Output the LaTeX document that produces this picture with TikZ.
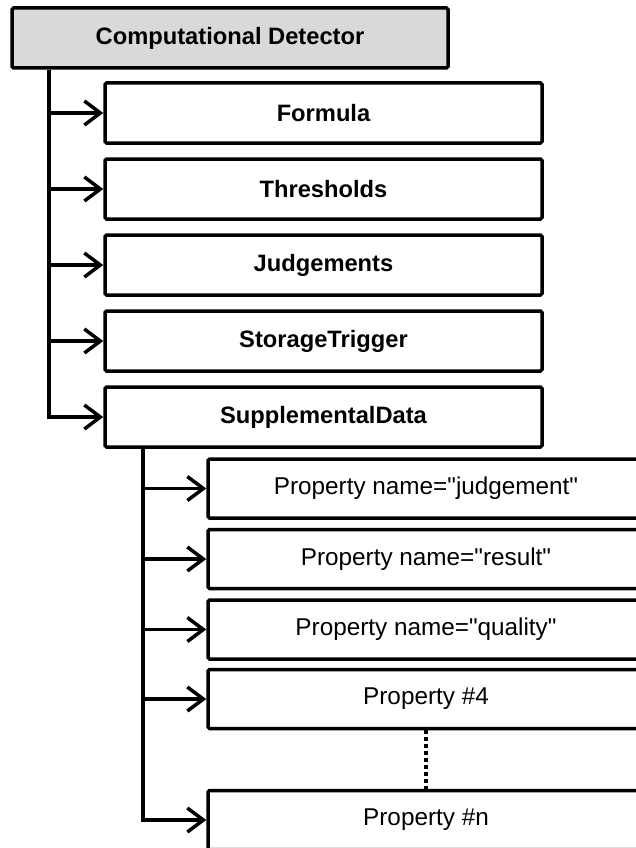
\documentclass[tikz,border=0pt]{standalone}
\usepackage{fontspec}
\setmainfont{Liberation Sans}
\newfontfamily\arialfont{Liberation Sans}
\usetikzlibrary{arrows.meta}
\begin{document}
\begin{tikzpicture}[x=1pt,y=-1pt,
  box/.style={draw=black,line width=3.5pt,rounded corners=1.5pt,fill=white,inner sep=0pt,
    minimum width=436pt,minimum height=60pt,font=\arialfont\fontsize{24.3}{28}\selectfont},
  bbox/.style={box,font=\arialfont\fontsize{23.7}{28}\selectfont\bfseries},
  pbox/.style={box,minimum height=59pt},
  conn/.style={line width=3.5pt,line join=miter},
  arr/.style={conn,-{Straight Barb[length=16pt,width=24pt,line width=3.5pt]}}]
\useasboundingbox (0,0) rectangle (636,848);
\clip (0,0) rectangle (636,848);
\coordinate (t1) at (49,0);
\coordinate (t2) at (143,0);
\node[bbox,fill={rgb,255:red,217;green,217;blue,217}] (top) at (230,38) {Computational Detector};
\node[bbox,minimum width=437pt] (formula) at (323.5,113) {Formula};
\node[bbox,minimum width=437pt] (thresh) at (323.5,189) {Thresholds};
\node[bbox,minimum width=437pt] (judg) at (323.5,265) {Judgements};
\node[bbox,minimum width=437pt] (store) at (323.5,341) {StorageTrigger};
\node[bbox,minimum width=437pt] (supp) at (323.5,417) {SupplementalData};
\node[pbox] (p1) at (426,488.5) {Property name="judgement"};
\node[pbox] (p2) at (426,559) {Property name="result"};
\node[pbox] (p3) at (426,629.5) {Property name="quality"};
\node[pbox] (p4) at (426,699) {Property \#4};
\node[pbox] (pn) at (426,820) {Property \#n};
\foreach \c in {formula,thresh,judg,store,supp}
  \draw[arr] (t1 |- top.south) |- (\c.west);
\foreach \c in {p1,p2,p3,p4,pn}
  \draw[arr] (t2 |- supp.south) |- (\c.west);
\draw[line width=3.5pt,dash pattern=on 4pt off 3pt] (p4.south) -- (pn.north);
\end{tikzpicture}
\end{document}
